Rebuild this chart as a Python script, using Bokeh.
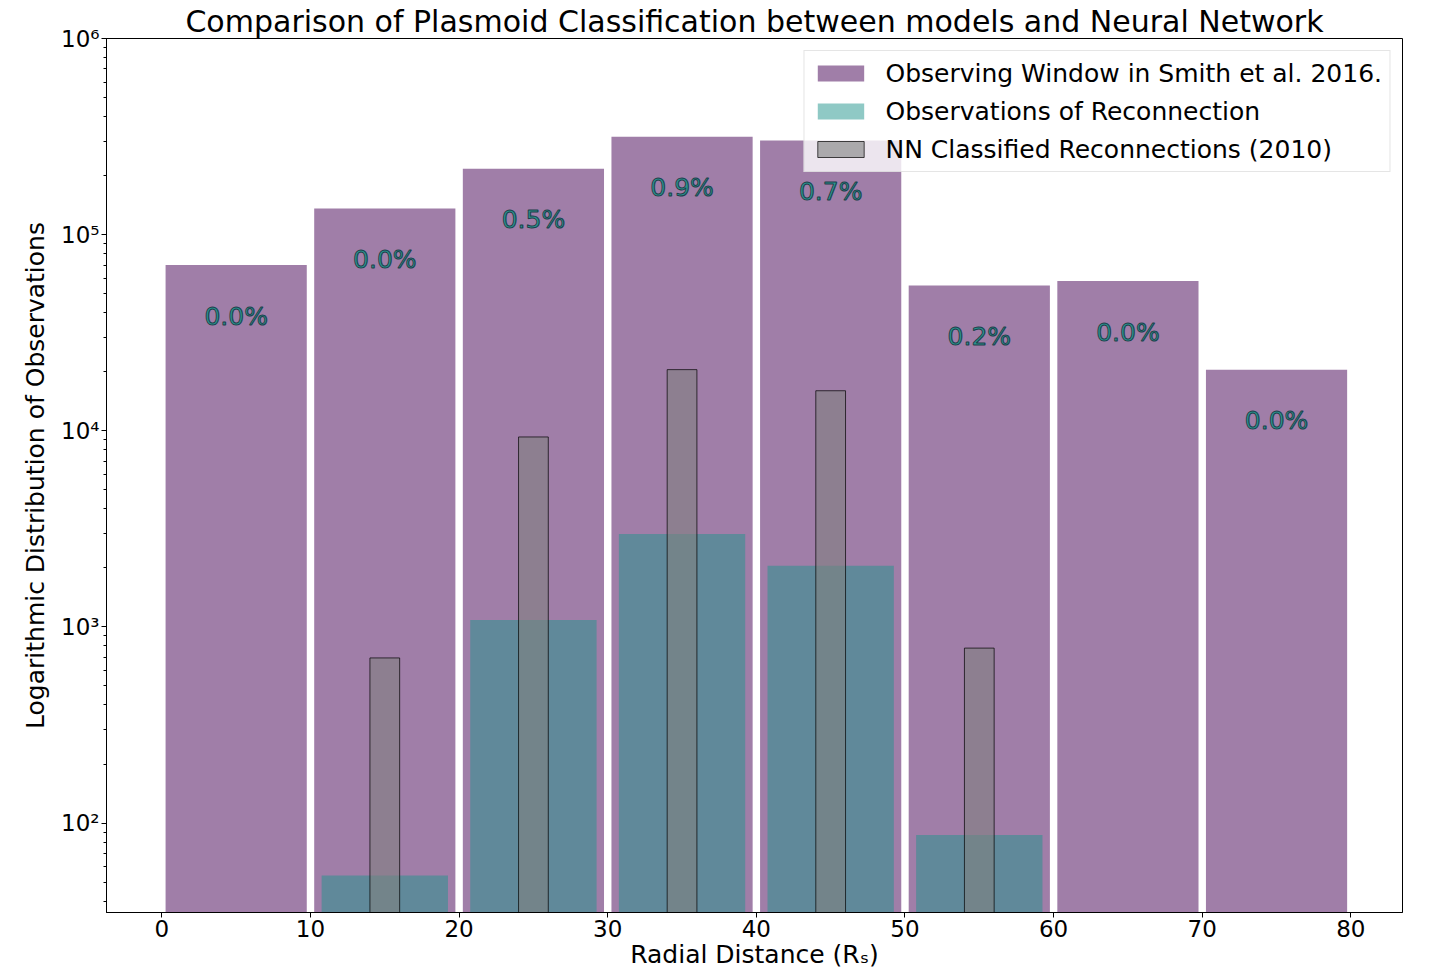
from bokeh.plotting import figure
from bokeh.models import (ColumnDataSource, Range1d, FixedTicker, Legend, LegendItem,
                          CustomJSTickFormatter)
from bokeh.core.properties import value
from bokeh.embed import file_html
from bokeh.resources import INLINE

# ---- data ----
bin_centers = [5, 15, 25, 35, 45, 55, 65, 75]
window_counts = [70000, 136000, 217000, 316000, 302000, 55000, 58000, 20500]
recon_counts = [0, 54, 1086, 2980, 2050, 87, 0, 0]
nn_counts = [0, 695, 9300, 20500, 16000, 780, 0, 0]
pct_labels = ["0.0%", "0.0%", "0.5%", "0.9%", "0.7%", "0.2%", "0.0%", "0.0%"]
x_ticks = [0, 10, 20, 30, 40, 50, 60, 70, 80]

FONT = "DejaVu Sans"

p = figure(width=1440, height=972, output_backend="svg", toolbar_location=None,
           y_axis_type="log",
           x_range=Range1d(-3.725, 83.475), y_range=Range1d(35, 1e6),
           min_border_left=106, min_border_right=38, min_border_top=38, min_border_bottom=60)

p.title.text = "Comparison of Plasmoid Classification between models and Neural Network"
p.title.align = "center"
p.title.text_font = FONT
p.title.text_font_size = "30px"
p.title.text_font_style = "normal"
p.title.text_color = "black"
p.title.standoff = 0
p.title.offset = 0

def nz(xs, ys):
    pairs = [(x, y) for x, y in zip(xs, ys) if y > 0]
    return ColumnDataSource(dict(x=[a for a, _ in pairs], top=[b for _, b in pairs]))

src_w = nz(bin_centers, window_counts)
src_r = nz(bin_centers, recon_counts)
src_n = nz(bin_centers, nn_counts)

r_w = p.vbar(x="x", top="top", bottom=1, width=9.5, source=src_w,
             fill_color="#A07EA8", line_color=None)
r_r = p.vbar(x="x", top="top", bottom=1, width=8.5, source=src_r,
             fill_color="#1F938B", fill_alpha=0.5, line_color=None)
r_n = p.vbar(x="x", top="top", bottom=1, width=2, source=src_n,
             fill_color="gray", fill_alpha=0.6, line_color="black", line_alpha=0.7, line_width=1)

label_src = ColumnDataSource(dict(x=bin_centers,
                                  y=[v * 10 ** (-0.26) for v in window_counts],
                                  t=pct_labels))
p.text(x="x", y="y", text="t", source=label_src,
       text_font=value(FONT), text_font_size="25px",
       text_align="center", text_baseline="middle",
       text_color="#2a9490", text_outline_color="#1d3f4a")

legend = Legend(items=[
    LegendItem(label="Observing Window in Smith et al. 2016.", renderers=[r_w]),
    LegendItem(label="Observations of Reconnection", renderers=[r_r]),
    LegendItem(label="NN Classified Reconnections (2010)", renderers=[r_n]),
], location="top_right")
legend.label_text_font = FONT
legend.label_text_font_size = "25px"
legend.label_text_color = "black"
legend.glyph_width = 58
legend.glyph_height = 20
legend.label_height = 30
legend.spacing = 8
legend.padding = 7
legend.margin = 12
legend.label_standoff = 16
legend.border_line_color = "#cccccc"
legend.border_line_width = 1
legend.background_fill_alpha = 0.8
p.add_layout(legend)

p.xaxis.ticker = FixedTicker(ticks=x_ticks)
for ax in (p.xaxis[0], p.yaxis[0]):
    ax.major_label_text_font = FONT
    ax.major_label_text_font_size = "23px"
    ax.major_label_text_color = "black"
    ax.axis_label_text_font = FONT
    ax.axis_label_text_font_size = "25px"
    ax.axis_label_text_font_style = "normal"
    ax.axis_label_text_color = "black"
    ax.axis_line_color = "black"
    ax.major_tick_line_color = "black"
    ax.minor_tick_line_color = "black"
    ax.major_tick_out = 5
    ax.major_tick_in = 0
    ax.minor_tick_out = 3
    ax.minor_tick_in = 0
    ax.major_label_standoff = 2
    ax.axis_label_standoff = 0

p.yaxis.formatter = CustomJSTickFormatter(code="""
const sup = {'0':'\u2070','1':'\u00b9','2':'\u00b2','3':'\u00b3','4':'\u2074',
             '5':'\u2075','6':'\u2076','7':'\u2077','8':'\u2078','9':'\u2079','-':'\u207b'};
const e = Math.round(Math.log10(tick));
return '10' + String(e).split('').map(c => sup[c]).join('');
""")

p.xaxis.axis_label = "Radial Distance (R\u209b)"
p.xaxis.minor_tick_line_color = None
p.yaxis.axis_label = "Logarithmic Distribution of Observations"
p.yaxis.axis_label_standoff = 8

p.xgrid.grid_line_color = None
p.ygrid.grid_line_color = None
p.outline_line_color = "black"
p.outline_line_alpha = 1

open("out.html", "w").write(file_html(p, INLINE))
